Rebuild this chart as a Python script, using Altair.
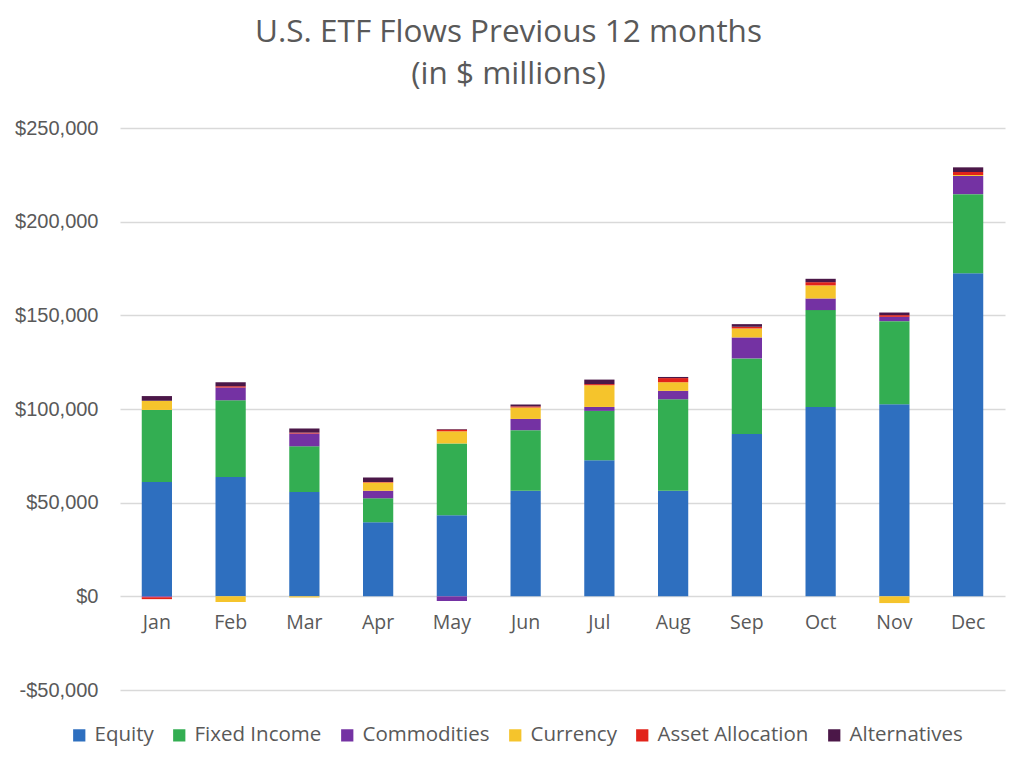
import altair as alt
import pandas as pd

months = ["Jan", "Feb", "Mar", "Apr", "May", "Jun", "Jul", "Aug", "Sep", "Oct", "Nov", "Dec"]
series = ["Equity", "Fixed Income", "Commodities", "Currency", "Asset Allocation", "Alternatives"]
colors = ["#2E6FBF", "#33AE52", "#7432A3", "#F5C42C", "#E2231A", "#4B1748"]

equity = [61000, 63700, 55700, 39500, 43300, 56300, 72600, 56300, 86700, 101100, 102600, 172500]
fixed_income = [38500, 41000, 24400, 12900, 38300, 32400, 26400, 48900, 40300, 51700, 44300, 42200]
commodities = [-500, 6800, 6800, 3900, -2500, 6000, 2100, 4500, 11200, 6200, 2300, 9700]
currency = [4900, -3000, -600, 4400, 6500, 6100, 11600, 4600, 4800, 7000, -3600, 500]
asset_allocation = [-1000, 700, 500, 300, 900, 600, 600, 2200, 900, 1700, 900, 1600]
alternatives = [2500, 2100, 2200, 2500, 300, 1000, 2400, 600, 1400, 1800, 1400, 2500]

values = [equity, fixed_income, commodities, currency, asset_allocation, alternatives]
rows = []
for si, (s, vals) in enumerate(zip(series, values)):
    for m, v in zip(months, vals):
        rows.append({"Month": m, "Series": s, "Value": v, "Order": si})
df = pd.DataFrame(rows)

FONT = "Open Sans"
AXFONT = "Liberation Sans"
GRAY = "#595959"

chart = alt.Chart(df).mark_bar().encode(
    x=alt.X("Month:N", sort=months, title=None,
            scale=alt.Scale(paddingInner=0.59, paddingOuter=0.295),
            axis=alt.Axis(labelAngle=0, domain=False, ticks=False, offset=-93.6,
                          labelPadding=17, labelFontSize=19.5, labelColor=GRAY, labelFont=FONT)),
    y=alt.Y("sum(Value):Q", title=None, stack="zero",
            scale=alt.Scale(domain=[-50000, 250000], nice=False),
            axis=alt.Axis(values=[-50000, 0, 50000, 100000, 150000, 200000, 250000],
                          labelExpr="datum.value < 0 ? '-$' + format(-datum.value, ',') : '$' + format(datum.value, ',')",
                          domain=False, ticks=False, labelPadding=22, labelFontSize=20,
                          labelColor=GRAY, labelFont=AXFONT, gridColor="#D9D9D9", gridWidth=1.5)),
    color=alt.Color("Series:N", sort=series,
                    scale=alt.Scale(domain=series, range=colors),
                    legend=alt.Legend(title=None, orient="none", direction="horizontal",
                                      legendX=-51, legendY=597, symbolType="square",
                                      symbolSize=150, symbolStrokeWidth=0, labelFontSize=20.5,
                                      labelColor=GRAY, labelFont=FONT, columnPadding=15,
                                      labelOffset=5, columns=6)),
    order=alt.Order("Order:Q", sort="ascending"),
).properties(
    width=885,
    height=562,
    title=alt.TitleParams(text=["U.S. ETF Flows Previous 12 months", "(in $ millions)"],
                          fontSize=31.5, font=FONT, fontWeight="normal", color=GRAY,
                          lineHeight=42, anchor="middle", offset=28, dx=-54),
    autosize=alt.AutoSizeParams(type="none"),
    padding={"left": 112, "top": 120, "right": 12, "bottom": 60},
).configure_view(stroke=None)

chart.save("out.html", embed_options={"renderer": "svg", "actions": False})
